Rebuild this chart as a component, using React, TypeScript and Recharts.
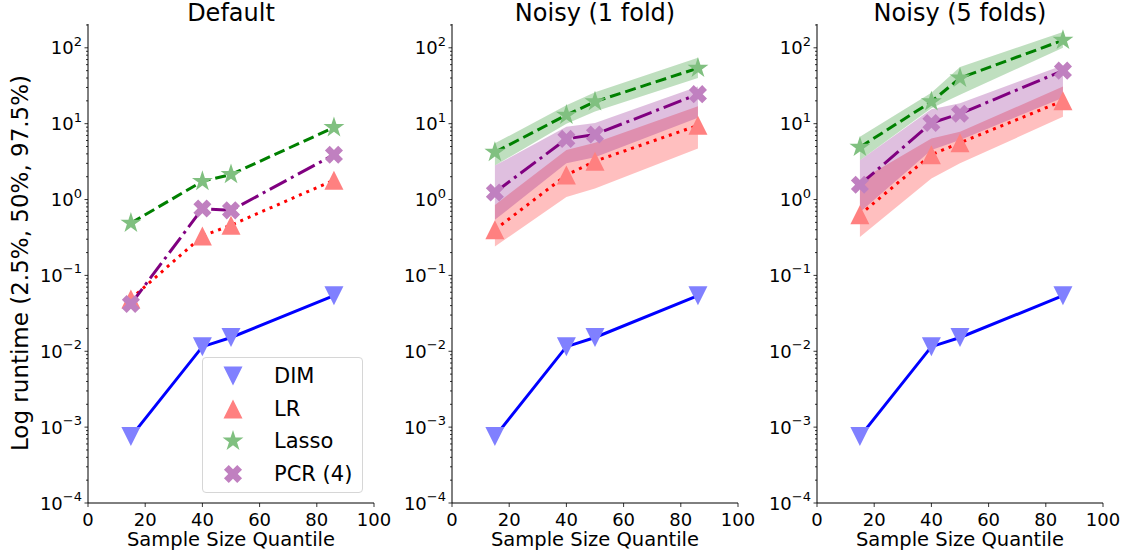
import React from "react";
import { Area, ComposedChart, Line, XAxis, YAxis } from "recharts";

const quantiles = [15, 40, 50, 86];
const xTicks = [0, 20, 40, 60, 80, 100];
const decadeTicks = [1e-4, 1e-3, 1e-2, 1e-1, 1, 10, 100];
const decadeExponents = ["−4", "−3", "−2", "−1", "0", "1", "2"];
const minorSteps = [2, 3, 4, 5, 6, 7, 8, 9];

// DIM is identical in every panel
const dimRuntime = [7.5e-4, 0.0115, 0.0152, 0.054];

const defaultLR = [0.049, 0.33, 0.46, 1.8];
const defaultLasso = [0.49, 1.74, 2.14, 8.9];
const defaultPCR = [0.042, 0.76, 0.72, 3.9];

const noisy1LR = [0.4, 2.1, 3.2, 9.5];
const noisy1LRLow = [0.24, 1.08, 1.4, 4.7];
const noisy1LRHigh = [0.85, 4.5, 5.6, 17];
const noisy1Lasso = [4.2, 13, 19.5, 54];
const noisy1LassoLow = [2.8, 10, 14.5, 40];
const noisy1LassoHigh = [5.5, 17.5, 26, 74];
const noisy1PCR = [1.24, 6.3, 7.2, 24.5];
const noisy1PCRLow = [0.54, 3.0, 3.6, 12];
const noisy1PCRHigh = [2.8, 9.1, 10.2, 31];

const noisy5LR = [0.63, 3.9, 5.6, 20];
const noisy5LRLow = [0.32, 1.9, 3.0, 12.3];
const noisy5LRHigh = [1.8, 6.4, 7.8, 31];
const noisy5Lasso = [4.9, 19.5, 40, 126];
const noisy5LassoLow = [3.3, 16, 24, 100];
const noisy5LassoHigh = [6.7, 25.5, 56, 162];
const noisy5PCR = [1.57, 10.2, 13.5, 50];
const noisy5PCRLow = [0.68, 4.5, 6.1, 22];
const noisy5PCRHigh = [3.3, 15.5, 18.6, 59];

const Y_MAX = 206;
const FONT = "'DejaVu Sans', sans-serif";

const minorTicks = decadeTicks
  .flatMap((d) => minorSteps.map((m) => m * d))
  .filter((v) => v < Y_MAX);
const yTicks = [...decadeTicks, ...minorTicks].sort((a, b) => a - b);

type Band = { low: number[]; high: number[] } | null;

type Panel = {
  title: string;
  left: number;
  lr: number[];
  lasso: number[];
  pcr: number[];
  lrBand: Band;
  lassoBand: Band;
  pcrBand: Band;
};

const panels: Panel[] = [
  {
    title: "Default",
    left: 88,
    lr: defaultLR,
    lasso: defaultLasso,
    pcr: defaultPCR,
    lrBand: null,
    lassoBand: null,
    pcrBand: null
  },
  {
    title: "Noisy (1 fold)",
    left: 452,
    lr: noisy1LR,
    lasso: noisy1Lasso,
    pcr: noisy1PCR,
    lrBand: { low: noisy1LRLow, high: noisy1LRHigh },
    lassoBand: { low: noisy1LassoLow, high: noisy1LassoHigh },
    pcrBand: { low: noisy1PCRLow, high: noisy1PCRHigh }
  },
  {
    title: "Noisy (5 folds)",
    left: 817,
    lr: noisy5LR,
    lasso: noisy5Lasso,
    pcr: noisy5PCR,
    lrBand: { low: noisy5LRLow, high: noisy5LRHigh },
    lassoBand: { low: noisy5LassoLow, high: noisy5LassoHigh },
    pcrBand: { low: noisy5PCRLow, high: noisy5PCRHigh }
  }
];

const PLOT_W = 286;
const PLOT_TOP = 24;
const PLOT_BOTTOM = 503;
const AXIS_W = 60;
const RIGHT_PAD = 22;

const colors = {
  dim: "#0000ff",
  lr: "#ff0000",
  lasso: "#008000",
  pcr: "#800080"
};

const markerFill = {
  dim: "#8080ff",
  lr: "#ff8080",
  lasso: "#80c080",
  pcr: "#c080c0"
};

// marker shapes, centred on (cx, cy)
const triangleDown = (cx: number, cy: number, r = 9.5) =>
  `${cx - r},${cy - r} ${cx + r},${cy - r} ${cx},${cy + r}`;
const triangleUp = (cx: number, cy: number, r = 9.5) =>
  `${cx - r},${cy + r} ${cx + r},${cy + r} ${cx},${cy - r}`;
const star = (cx: number, cy: number, r = 11) => {
  const pts: string[] = [];
  for (let i = 0; i < 10; i++) {
    const rad = i % 2 === 0 ? r : r * 0.382;
    const a = -Math.PI / 2 + (i * Math.PI) / 5;
    pts.push(`${cx + rad * Math.cos(a)},${cy + rad * Math.sin(a)}`);
  }
  return pts.join(" ");
};
const cross = (cx: number, cy: number, s = 9.4) => {
  const a = 1;
  const b = 0.36;
  const base = [
    [b, a], [b, b], [a, b], [a, -b], [b, -b], [b, -a],
    [-b, -a], [-b, -b], [-a, -b], [-a, b], [-b, b], [-b, a]
  ];
  const c = Math.SQRT1_2;
  return base
    .map(([x, y]) => `${cx + s * c * (x - y)},${cy + s * c * (x + y)}`)
    .join(" ");
};

const shapes = {
  dim: triangleDown,
  lr: triangleUp,
  lasso: star,
  pcr: cross
};

type SeriesKey = keyof typeof shapes;

const markerDot = (key: SeriesKey) => (props: any) => {
  const { cx, cy, index } = props;
  if (cx == null || cy == null) return <g key={`${key}-${index}`} />;
  return (
    <polygon
      key={`${key}-${index}`}
      points={shapes[key](cx, cy)}
      fill={markerFill[key]}
      stroke="none"
    />
  );
};

function LogTick(props: any) {
  const { x, y, payload } = props;
  const idx = decadeTicks.findIndex(
    (d) => Math.abs(Math.log10(d) - Math.log10(payload.value)) < 1e-6
  );
  if (idx < 0) {
    return <line x1={x} x2={x - 2} y1={y} y2={y} stroke="#000" strokeWidth={0.8} />;
  }
  return (
    <g>
      <line x1={x} x2={x - 3.5} y1={y} y2={y} stroke="#000" strokeWidth={0.8} />
      <text
        x={x - 6}
        y={y}
        textAnchor="end"
        dominantBaseline="central"
        fontSize={18}
        fontFamily={FONT}
        fill="#000"
      >
        10
        <tspan dy={-7} fontSize={13}>
          {decadeExponents[idx]}
        </tspan>
      </text>
    </g>
  );
}

function RuntimePanel({ panel }: { panel: Panel }) {
  const rows = quantiles.map((q, i) => ({
    q,
    dim: dimRuntime[i],
    lr: panel.lr[i],
    lasso: panel.lasso[i],
    pcr: panel.pcr[i],
    lrBand: panel.lrBand ? [panel.lrBand.low[i], panel.lrBand.high[i]] : null,
    lassoBand: panel.lassoBand ? [panel.lassoBand.low[i], panel.lassoBand.high[i]] : null,
    pcrBand: panel.pcrBand ? [panel.pcrBand.low[i], panel.pcrBand.high[i]] : null
  }));

  const hasBands = panel.lrBand !== null;

  return (
    <div style={{ position: "absolute", left: panel.left - AXIS_W, top: 0 }}>
      <div
        style={{
          position: "absolute",
          left: AXIS_W,
          width: PLOT_W,
          top: 0,
          height: 27,
          textAlign: "center",
          fontSize: 24,
          fontFamily: FONT,
          lineHeight: "27px",
          color: "#000",
          whiteSpace: "nowrap"
        }}
      >
        {panel.title}
      </div>
      <ComposedChart
        width={AXIS_W + PLOT_W + RIGHT_PAD}
        height={556}
        data={rows}
        margin={{ top: PLOT_TOP, right: RIGHT_PAD, left: 0, bottom: 0 }}
        style={{ position: "relative" }}
      >
        <XAxis
          dataKey="q"
          type="number"
          domain={[0, 100]}
          ticks={xTicks}
          interval={0}
          height={556 - PLOT_BOTTOM}
          tickSize={4}
          tickMargin={6}
          axisLine={{ stroke: "#000", strokeWidth: 1 }}
          tickLine={{ stroke: "#000", strokeWidth: 0.8 }}
          tick={{ fontSize: 18, fill: "#000", fontFamily: FONT }}
          label={{
            value: "Sample Size Quantile",
            position: "insideBottom",
            offset: 10,
            fontSize: 19.5,
            fill: "#000",
            fontFamily: FONT
          }}
        />
        <XAxis
          xAxisId="top"
          orientation="top"
          type="number"
          domain={[0, 100]}
          height={0}
          tick={false}
          tickLine={false}
          axisLine={{ stroke: "#000", strokeWidth: 1 }}
        />
        <YAxis
          type="number"
          scale="log"
          domain={[1e-4, Y_MAX]}
          allowDataOverflow
          ticks={yTicks}
          interval={0}
          width={AXIS_W}
          tickSize={0}
          tickMargin={0}
          tickLine={false}
          axisLine={{ stroke: "#000", strokeWidth: 1 }}
          tick={<LogTick />}
        />
        <YAxis
          yAxisId="right"
          orientation="right"
          type="number"
          domain={[0, 1]}
          width={0}
          tick={false}
          tickLine={false}
          axisLine={{ stroke: "#000", strokeWidth: 1 }}
        />

        {hasBands && (
          <Area
            dataKey="lrBand"
            stroke="none"
            fill={colors.lr}
            fillOpacity={0.25}
            isAnimationActive={false}
            activeDot={false}
          />
        )}
        {hasBands && (
          <Area
            dataKey="lassoBand"
            stroke="none"
            fill={colors.lasso}
            fillOpacity={0.25}
            isAnimationActive={false}
            activeDot={false}
          />
        )}
        {hasBands && (
          <Area
            dataKey="pcrBand"
            stroke="none"
            fill={colors.pcr}
            fillOpacity={0.25}
            isAnimationActive={false}
            activeDot={false}
          />
        )}

        {(["dim", "lr", "lasso", "pcr"] as SeriesKey[]).map((key) => (
          <Line
            key={`m-${key}`}
            dataKey={key}
            stroke="none"
            dot={markerDot(key)}
            activeDot={false}
            isAnimationActive={false}
          />
        ))}

        <Line
          dataKey="dim"
          stroke={colors.dim}
          strokeWidth={3}
          dot={false}
          activeDot={false}
          isAnimationActive={false}
        />
        <Line
          dataKey="lr"
          stroke={colors.lr}
          strokeWidth={3}
          strokeDasharray="3 5"
          dot={false}
          activeDot={false}
          isAnimationActive={false}
        />
        <Line
          dataKey="lasso"
          stroke={colors.lasso}
          strokeWidth={3}
          strokeDasharray="11 5"
          dot={false}
          activeDot={false}
          isAnimationActive={false}
        />
        <Line
          dataKey="pcr"
          stroke={colors.pcr}
          strokeWidth={3}
          strokeDasharray="19 5 3 5"
          dot={false}
          activeDot={false}
          isAnimationActive={false}
        />
      </ComposedChart>
    </div>
  );
}

const legendItems: { key: SeriesKey; label: string }[] = [
  { key: "dim", label: "DIM" },
  { key: "lr", label: "LR" },
  { key: "lasso", label: "Lasso" },
  { key: "pcr", label: "PCR (4)" }
];

function LegendBox() {
  return (
    <div
      style={{
        position: "absolute",
        left: 202,
        top: 357,
        width: 161,
        height: 136,
        boxSizing: "border-box",
        border: "1px solid #d6d6d6",
        borderRadius: 4,
        background: "rgba(255,255,255,0.8)",
        fontFamily: FONT,
        fontSize: 21
      }}
    >
      {legendItems.map((item, i) => (
        <div
          key={item.key}
          style={{
            position: "absolute",
            left: 0,
            top: 3 + i * 32.7,
            height: 30,
            display: "flex",
            alignItems: "center"
          }}
        >
          <svg width={60} height={30} style={{ display: "block" }}>
            <polygon points={shapes[item.key](30, 15)} fill={markerFill[item.key]} />
          </svg>
          <span style={{ marginLeft: 11, color: "#000", whiteSpace: "nowrap" }}>
            {item.label}
          </span>
        </div>
      ))}
    </div>
  );
}

export default function App() {
  return (
    <div
      style={{
        position: "absolute",
        left: 0,
        top: 0,
        width: 1127,
        height: 556,
        background: "#fff",
        fontFamily: FONT,
        overflow: "hidden"
      }}
    >
      {panels.map((p) => (
        <RuntimePanel key={p.title} panel={p} />
      ))}
      <div
        style={{
          position: "absolute",
          left: 20,
          top: 263,
          transform: "translate(-50%, -50%) rotate(-90deg)",
          whiteSpace: "nowrap",
          fontSize: 23,
          color: "#000",
          fontFamily: FONT
        }}
      >
        Log runtime (2.5%, 50%, 97.5%)
      </div>
      <LegendBox />
    </div>
  );
}
